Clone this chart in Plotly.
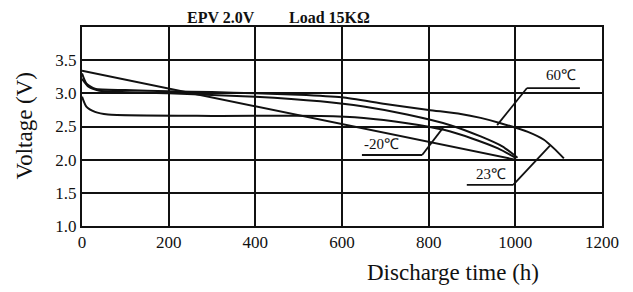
import plotly.graph_objects as go

# ---- data ----
t60 = [0, 10, 30, 100, 200, 300, 400, 500, 600, 700, 800, 874, 920, 966, 1029, 1066, 1089, 1112]
v60 = [3.30, 3.15, 3.07, 3.05, 3.03, 3.02, 3.00, 2.98, 2.94, 2.84, 2.75, 2.69, 2.63, 2.55, 2.42, 2.30, 2.17, 2.02]

t23 = [0, 15, 40, 200, 400, 550, 650, 750, 850, 920, 970, 1005]
v23 = [3.22, 3.10, 3.04, 3.00, 2.95, 2.88, 2.80, 2.68, 2.52, 2.35, 2.20, 2.03]

tm20 = [0, 10, 30, 60, 300, 550, 650, 750, 835, 900, 960, 1000]
vm20 = [2.95, 2.80, 2.72, 2.68, 2.66, 2.66, 2.63, 2.55, 2.45, 2.32, 2.17, 2.03]

tline = [0, 1000]
vline = [3.34, 2.00]

x_ticks = [0, 200, 400, 600, 800, 1000, 1200]
y_ticks = [1.0, 1.5, 2.0, 2.5, 3.0, 3.5]
y_ticktext = ["1.0", "1.5", "2.0", "2.5", "3.0", "3.5"]

# label callouts: text, text position, underline x-span, underline y, leader end
labels = ["60\u2103", "-20\u2103", "23\u2103"]
label_xy = [(1105, 3.28), (690, 2.23), (944, 1.78)]
under_x = [(1027, 1149), (646, 785), (888, 995)]
under_y = [3.08, 2.07, 1.62]
leader_start_x = [1027, 785, 995]
leader_end = [(958, 2.52), (833, 2.48), (1080, 2.21)]

fig = go.Figure()
line_style = dict(color="#111111", width=2)
for t, v in [(t60, v60), (t23, v23), (tm20, vm20), (tline, vline)]:
    fig.add_trace(go.Scatter(x=t, y=v, mode="lines", line=dict(line_style, shape="spline", smoothing=0.6),
                             showlegend=False, hoverinfo="skip"))

for i, lab in enumerate(labels):
    x0, x1 = under_x[i]
    ex, ey = leader_end[i]
    fig.add_trace(go.Scatter(x=[x0, x1, None, leader_start_x[i], ex],
                             y=[under_y[i], under_y[i], None, under_y[i], ey],
                             mode="lines", line=dict(color="#111111", width=1.8),
                             showlegend=False, hoverinfo="skip", cliponaxis=False))
    fig.add_annotation(x=label_xy[i][0], y=label_xy[i][1], text=lab, showarrow=False,
                       font=dict(family="Liberation Serif", size=15, color="#111111"))

PLOT_W = 520
fig.add_annotation(xref="paper", yref="paper", x=(221 - 82) / PLOT_W, y=1.0, yshift=10,
                   xanchor="center", yanchor="middle", borderpad=0, text="<b>EPV 2.0V</b>", showarrow=False,
                   font=dict(family="Liberation Serif", size=16, color="#111111"))
fig.add_annotation(xref="paper", yref="paper", x=(329 - 82) / PLOT_W, y=1.0, yshift=10,
                   xanchor="center", yanchor="middle", borderpad=0, text="<b>Load 15K\u03a9</b>", showarrow=False,
                   font=dict(family="Liberation Serif", size=16, color="#111111"))
fig.add_annotation(xref="paper", yref="paper", x=(453 - 82) / PLOT_W, y=0, yshift=-46,
                   xanchor="center", yanchor="middle", text="Discharge time (h)", showarrow=False,
                   font=dict(family="Liberation Serif", size=23, color="#111111"))
fig.add_annotation(xref="paper", yref="paper", x=0, xshift=-58, y=0.5, yshift=1,
                   xanchor="center", yanchor="middle",
                   textangle=-90, text="Voltage (V)", showarrow=False,
                   font=dict(family="Liberation Serif", size=23, color="#111111"))

axis_common = dict(showline=True, linecolor="#111111", linewidth=2, mirror=True,
                   showgrid=True, gridcolor="#111111", gridwidth=2, zeroline=False,
                   ticks="", automargin=False,
                   tickfont=dict(family="Liberation Serif", size=17, color="#111111"))
fig.update_xaxes(range=[0, 1200], tickvals=x_ticks, **axis_common)
fig.update_yaxes(range=[1.0, 4.0], tickvals=y_ticks, ticktext=y_ticktext, **axis_common)

# page body adds an 8px offset, so the figure is sized to fit the 633x292 window
fig.update_layout(width=625, height=284, margin=dict(l=74, r=31, t=19, b=66),
                  plot_bgcolor="white", paper_bgcolor="white")
fig.write_html("out.html")
